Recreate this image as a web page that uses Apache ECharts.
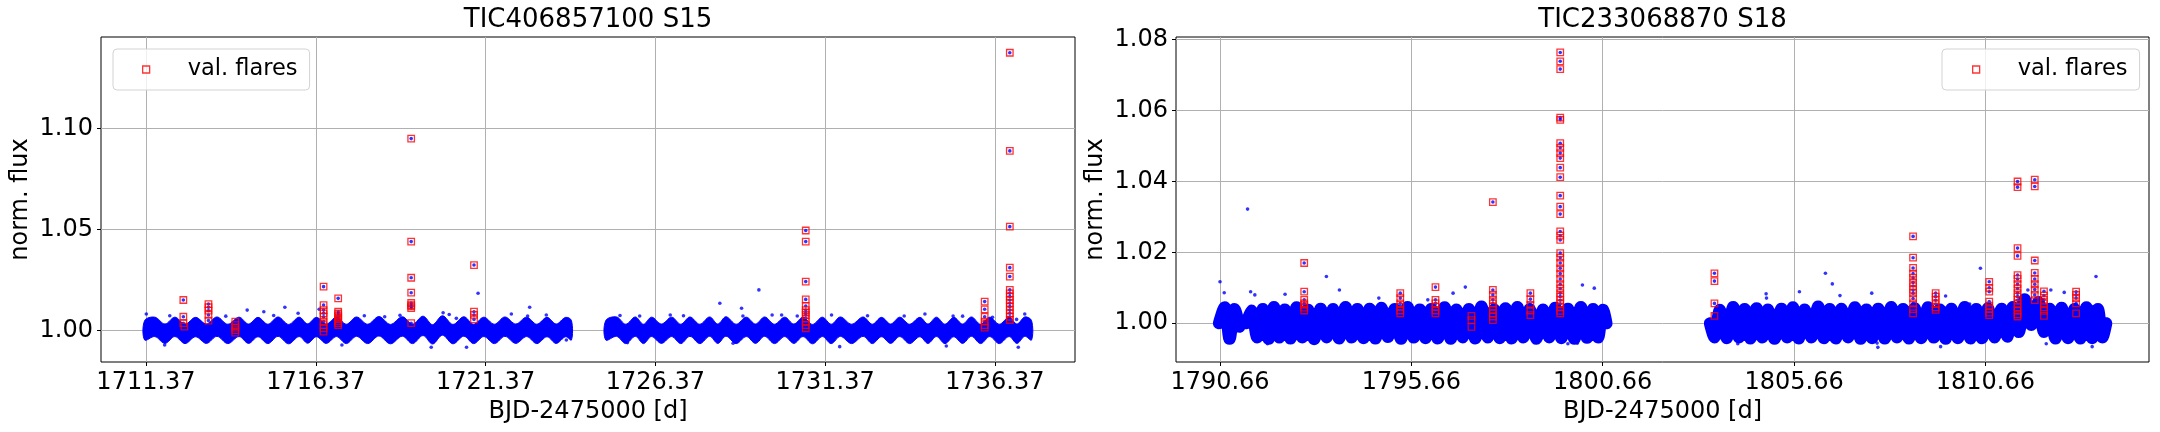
<!DOCTYPE html>
<html><head><meta charset="utf-8">
<script src="https://cdn.jsdelivr.net/npm/echarts@6/dist/echarts.min.js"></script>
<style>html,body{margin:0;padding:0;background:#fff}#c{width:2160px;height:432px}</style>
</head><body><div id="c"></div>
<script>
// ---------------- DATA ----------------
const titles = ['TIC406857100 S15', 'TIC233068870 S18'];
const xAxisName = 'BJD-2475000 [d]';
const yAxisName = 'norm. flux';
const legendName = 'val. flares';

const leftXTicks = [1711.37, 1716.37, 1721.37, 1726.37, 1731.37, 1736.37];
const leftYTicks = [1.00, 1.05, 1.10];
const rightXTicks = [1790.66, 1795.66, 1800.66, 1805.66, 1810.66];
const rightYTicks = [1.00, 1.02, 1.04, 1.06, 1.08];
const leftXRange = [1710.045, 1738.73];
const leftYRange = [0.9843, 1.1452];
const rightXRange = [1789.51, 1814.935];
const rightYRange = [0.98907, 1.08076];

// half-thickness of the dense point band around its modulated centre
const leftBandHalf = 0.0048;

// light-curve band: centre of the modulation at its peaks and troughs
const leftSeg1T = [1711.33,1711.63,1711.93,1712.22,1712.52,1712.83,1713.15,1713.46,1713.78,1714.11,1714.39,1714.67,1714.96,1715.26,1715.57,1715.88,1716.13,1716.39,1716.68,1716.98,1717.27,1717.57,1717.90,1718.23,1718.57,1718.92,1719.22,1719.53,1719.81,1720.10,1720.41,1720.73,1721.02,1721.32,1721.63,1721.94,1722.26,1722.58,1722.88,1723.18,1723.45,1723.73,1723.90];
const leftSeg1V = [1.0000,1.0017,0.9983,1.0017,0.9982,1.0016,0.9983,1.0018,0.9982,1.0017,0.9983,1.0016,0.9982,1.0018,0.9981,1.0017,0.9984,1.0016,0.9983,1.0017,0.9982,1.0018,0.9982,1.0020,0.9981,1.0019,0.9982,1.0022,0.9980,1.0024,0.9981,1.0019,0.9982,1.0017,0.9982,1.0018,0.9983,1.0017,0.9982,1.0016,0.9983,1.0016,1.0000];
const leftSeg2T = [1724.91,1725.23,1725.50,1725.78,1726.02,1726.26,1726.55,1726.85,1727.12,1727.39,1727.68,1727.97,1728.21,1728.45,1728.75,1729.05,1729.32,1729.59,1729.88,1730.18,1730.45,1730.72,1731.00,1731.29,1731.55,1731.82,1732.15,1732.49,1732.76,1733.03,1733.30,1733.57,1733.86,1734.16,1734.40,1734.65,1734.90,1735.16,1735.42,1735.68,1735.95,1736.22,1736.50,1736.79,1737.02,1737.25,1737.45];
const leftSeg2V = [1.0000,1.0018,0.9982,1.0018,0.9982,1.0017,0.9983,1.0017,0.9982,1.0018,0.9982,1.0018,0.9983,1.0019,0.9982,1.0017,0.9983,1.0018,0.9982,1.0017,0.9983,1.0017,0.9981,1.0017,0.9982,1.0018,0.9982,1.0018,0.9982,1.0016,0.9983,1.0017,0.9982,1.0016,0.9983,1.0017,0.9982,1.0016,0.9983,1.0018,0.9982,1.0017,0.9982,1.0017,0.9983,1.0018,1.0000];

const rightSeg1T = [1790.63,1790.78,1790.91,1791.04,1791.17];
const rightSeg1V = [1.0000,1.0045,0.9956,1.0040,0.9990];
const rightSeg2T = [1791.35,1791.48,1791.63,1791.78,1791.93,1792.07,1792.21,1792.35,1792.50,1792.66,1792.81,1792.96,1793.12,1793.29,1793.45,1793.61,1793.77,1793.94,1794.10,1794.25,1794.41,1794.57,1794.72,1794.88,1795.05,1795.22,1795.39,1795.56,1795.72,1795.88,1796.03,1796.18,1796.35,1796.53,1796.69,1796.84,1797.00,1797.16,1797.33,1797.49,1797.66,1797.82,1797.97,1798.12,1798.28,1798.43,1798.59,1798.75,1798.93,1799.10,1799.26,1799.42,1799.58,1799.75,1799.92,1800.09,1800.25,1800.41,1800.54,1800.67,1800.76];
const rightSeg2V = [1.0000,1.0036,0.9960,1.0040,0.9956,1.0046,0.9960,1.0039,0.9957,1.0045,0.9960,1.0038,0.9955,1.0041,0.9960,1.0040,0.9957,1.0046,0.9960,1.0040,0.9958,1.0041,0.9957,1.0044,0.9961,1.0040,0.9956,1.0046,0.9960,1.0039,0.9958,1.0040,0.9957,1.0045,0.9956,1.0039,0.9960,1.0040,0.9957,1.0047,0.9960,1.0039,0.9958,1.0042,0.9957,1.0046,0.9960,1.0040,0.9956,1.0039,0.9960,1.0044,0.9958,1.0041,0.9956,1.0046,0.9959,1.0040,0.9960,1.0038,1.0000];
const rightSeg3T = [1803.46,1803.58,1803.72,1803.90,1804.07,1804.22,1804.37,1804.52,1804.68,1804.83,1804.98,1805.15,1805.33,1805.48,1805.63,1805.78,1805.94,1806.11,1806.29,1806.44,1806.59,1806.75,1806.90,1807.07,1807.25,1807.40,1807.55,1807.70,1807.86,1808.03,1808.20,1808.35,1808.51,1808.66,1808.81,1808.98,1809.16,1809.31,1809.47,1809.62,1809.77,1809.94,1810.12,1810.27,1810.42,1810.57,1810.73,1810.90,1811.08,1811.23,1811.38,1811.53,1811.69,1811.86,1812.04,1812.19,1812.34,1812.49,1812.65,1812.82,1812.99,1813.14,1813.30,1813.45,1813.60,1813.72,1813.82];
const rightSeg3V = [1.0000,0.9960,1.0038,0.9958,1.0046,0.9960,1.0040,0.9957,1.0042,0.9960,1.0039,0.9956,1.0041,0.9960,1.0045,0.9957,1.0039,0.9960,1.0047,0.9958,1.0040,0.9957,1.0041,0.9960,1.0045,0.9956,1.0039,0.9958,1.0041,0.9957,1.0046,0.9960,1.0040,0.9957,1.0042,0.9958,1.0045,0.9960,1.0039,0.9956,1.0041,0.9958,1.0046,0.9957,1.0040,0.9958,1.0042,0.9960,1.0041,0.9962,1.0046,0.9975,1.0068,0.9995,1.0060,0.9975,1.0041,0.9957,1.0044,0.9958,1.0040,0.9957,1.0045,0.9958,1.0040,0.9960,1.0000];

// isolated points outside the band
const leftOutT = [1711.38,1715.46,1714.35,1714.84,1715.85,1716.47,1721.15,1722.67,1722.13,1722.61,1723.16,1720.51,1718.40,1711.92,1717.14,1719.77,1720.81,1723.75,1728.27,1729.42,1728.91,1728.95,1726.81,1729.81,1730.09,1731.56,1725.91,1734.31,1735.14,1736.30,1737.25,1737.01,1731.80,1734.94,1737.06,1728.66,1725.55,1712.07,1713.72,1715.13,1717.80,1718.85,1720.12,1720.30,1725.33,1727.20,1730.55,1732.62,1733.70,1735.42];
const leftOutV = [1.0081,1.0114,1.0100,1.0092,1.0084,1.0104,1.0183,1.0114,1.0081,1.0071,1.0076,1.0059,1.0067,0.9927,0.9927,0.9916,0.9916,0.9952,1.0134,1.0200,1.0109,1.0071,1.0076,1.0076,1.0076,1.0076,1.0071,1.0081,1.0071,1.0064,1.0081,1.0054,0.9919,0.9922,0.9916,0.9936,0.9939,1.0072,1.0070,1.0073,1.0072,1.0074,1.0087,1.0078,1.0073,1.0072,1.0071,1.0072,1.0071,1.0070];
const rightOutT = [1791.38,1790.66,1793.44,1793.78,1790.77,1792.36,1796.75,1797.07,1800.13,1800.44,1806.48,1806.66,1805.80,1810.53,1813.55,1812.37,1804.93,1807.69,1806.86,1807.83,1809.49,1813.45,1791.46,1791.57,1794.81,1796.09,1791.90,1800.00,1799.75,1804.94,1809.62,1810.25,1811.77,1812.72,1813.47,1804.19,1807.85,1812.25];
const rightOutV = [1.0322,1.0117,1.0132,1.0094,1.0086,1.0082,1.0085,1.0102,1.0108,1.0099,1.0141,1.0111,1.0089,1.0155,1.0132,1.0094,1.0083,1.0085,1.0078,0.9944,0.9934,0.9934,1.0089,1.0080,1.0071,1.0066,0.9942,0.9944,0.9942,1.0071,1.0077,1.0054,1.0094,1.0087,1.0047,0.9942,0.9932,0.9942];

// validated flares: time of each flare column and the fluxes flagged there
const leftFlareT = [1712.47,1712.50,1713.21,1714.00,1716.60,1717.03,1719.18,1721.03,1730.80,1736.07,1736.81];
const leftFlareV = [
  [1.0150,1.0067,1.0035],[1.0018],
  [1.0130,1.0114,1.0097,1.0076,1.0048],
  [1.0043,1.0026,1.0013,1.0001,0.9988],
  [1.0216,1.0125,1.0100,1.0084,1.0067,1.0043,1.0026,1.0010,0.9993],
  [1.0158,1.0092,1.0083,1.0074,1.0065,1.0056,1.0045,1.0035,1.0026],
  [1.0949,1.0439,1.0260,1.0186,1.0135,1.0125,1.0118,1.0110,1.0035],
  [1.0323,1.0092,1.0076,1.0054],
  [1.0494,1.0439,1.0241,1.0153,1.0120,1.0100,1.0087,1.0076,1.0059,1.0043,1.0026,1.0010],
  [1.0142,1.0104,1.0067,1.0043,1.0026,1.0013],
  [1.1374,1.0888,1.0513,1.0310,1.0266,1.0200,1.0183,1.0167,1.0150,1.0134,1.0117,1.0100,1.0084,1.0067,1.0051]
];
const rightFlareT = [1792.86,1795.37,1796.29,1797.23,1797.79,1798.77,1799.55,1803.58,1808.77,1809.36,1810.76,1811.50,1811.95,1812.19,1813.03];
const rightFlareV = [
  [1.0170,1.0089,1.0066,1.0056,1.0052,1.0044,1.0036],
  [1.0085,1.0071,1.0056,1.0047,1.0036,1.0028],
  [1.0102,1.0066,1.0056,1.0046,1.0036,1.0028],
  [1.0021,1.0009,0.9990],
  [1.0342,1.0094,1.0080,1.0066,1.0056,1.0047,1.0038,1.0028,1.0019,1.0009],
  [1.0085,1.0068,1.0052,1.0036,1.0023],
  [1.0764,1.0739,1.0717,1.0580,1.0574,1.0508,1.0495,1.0480,1.0466,1.0439,1.0412,1.0360,1.0329,1.0308,1.0259,1.0247,1.0235,1.0198,1.0185,1.0170,1.0155,1.0140,1.0125,1.0110,1.0098,1.0085,1.0075,1.0065,1.0055,1.0045,1.0035,1.0028],
  [1.0141,1.0119,1.0056,1.0021],
  [1.0245,1.0185,1.0156,1.0140,1.0128,1.0115,1.0105,1.0094,1.0085,1.0070,1.0056,1.0040,1.0028],
  [1.0085,1.0075,1.0065,1.0054,1.0045,1.0038],
  [1.0117,1.0100,1.0089,1.0061,1.0050,1.0040,1.0030,1.0023],
  [1.0400,1.0384,1.0212,1.0190,1.0136,1.0125,1.0110,1.0098,1.0085,1.0075,1.0065,1.0055,1.0045,1.0035,1.0025,1.0019],
  [1.0405,1.0386,1.0177,1.0142,1.0125,1.0110,1.0095,1.0080,1.0065],
  [1.0090,1.0078,1.0066,1.0056,1.0045,1.0035,1.0021],
  [1.0089,1.0080,1.0071,1.0056,1.0028]
];

// ---------------- CHART ----------------
const FONT = 'DejaVu Sans';
const BLUE = '#0000ff', RED = '#ff0000', GRID = '#b0b0b0';
const zip = (a, b) => a.map((t, i) => [t, b[i]]);
const flarePts = (ts, vs) => { const o = []; ts.forEach((t, i) => vs[i].forEach(v => o.push([t, v]))); return o; };

// band drawn as one smoothed polygon per segment, positioned with the axis scales (api.coord)
function bandRender(params, api) {
  if (params.dataIndexInside !== 0) return null;
  const n = params.dataInsideLength, top = [], bot = [];
  for (let j = 0; j < n; j++) {
    const t = api.value(0, j);
    top.push(api.coord([t, api.value(2, j)]));
    bot.push(api.coord([t, api.value(1, j)]));
  }
  return { type: 'polygon', shape: { points: top.concat(bot.reverse()), smooth: 0.35 },
    style: { fill: BLUE, stroke: BLUE, lineWidth: 1 } };
}

const panels = [
  { grid: { left: 101, top: 37, width: 974, height: 325 }, xr: leftXRange, yr: leftYRange, xt: leftXTicks, yt: leftYTicks,
    segs: [[leftSeg1T, leftSeg1V], [leftSeg2T, leftSeg2V]], mode: 'area', half: leftBandHalf,
    out: zip(leftOutT, leftOutV), fl: flarePts(leftFlareT, leftFlareV), title: titles[0], legendLeft: 113, legendPad: [9, 12, 9, 29] },
  { grid: { left: 1176, top: 37, width: 973, height: 325 }, xr: rightXRange, yr: rightYRange, xt: rightXTicks, yt: rightYTicks,
    segs: [[rightSeg1T, rightSeg1V], [rightSeg2T, rightSeg2V], [rightSeg3T, rightSeg3V]], mode: 'line', bandW: 12,
    out: zip(rightOutT, rightOutV), fl: flarePts(rightFlareT, rightFlareV), title: titles[1], legendLeft: 1942, legendPad: [9, 12, 9, 30] }
];

const option = { animation: false, backgroundColor: '#fff', grid: [], xAxis: [], yAxis: [], series: [], title: [], legend: [] };

panels.forEach((p, k) => {
  option.grid.push(Object.assign({ show: true, borderColor: '#000', borderWidth: 1, backgroundColor: 'transparent' }, p.grid));
  option.title.push({ text: p.title, left: p.grid.left + p.grid.width / 2, top: 7, textAlign: 'center', padding: 0,
    textStyle: { fontFamily: FONT, fontSize: 26, fontWeight: 'normal', color: '#000' } });
  option.xAxis.push({ type: 'value', gridIndex: k, min: p.xr[0], max: p.xr[1],
    name: xAxisName, nameLocation: 'middle', nameGap: 33,
    nameTextStyle: { fontFamily: FONT, fontSize: 24, color: '#000' },
    axisLine: { show: false }, splitLine: { show: false },
    axisTick: { show: true, customValues: p.xt, length: 4, lineStyle: { color: '#000' } },
    axisLabel: { customValues: p.xt, formatter: v => v.toFixed(2), margin: 9, fontFamily: FONT, fontSize: 24, color: '#000' } });
  option.yAxis.push({ type: 'value', gridIndex: k, min: p.yr[0], max: p.yr[1],
    name: yAxisName, nameLocation: 'middle', nameGap: 68, nameRotate: 90,
    nameTextStyle: { fontFamily: FONT, fontSize: 24, color: '#000' },
    axisLine: { show: false }, splitLine: { show: false },
    axisTick: { show: true, customValues: p.yt, length: 4, lineStyle: { color: '#000' } },
    axisLabel: { customValues: p.yt, formatter: v => v.toFixed(2), margin: 8, fontFamily: FONT, fontSize: 24, color: '#000' } });

  // grid lines at the tick values
  option.series.push({ type: 'scatter', xAxisIndex: k, yAxisIndex: k, data: [], z: 1, silent: true,
    markLine: { silent: true, symbol: 'none', z: 1, animation: false, label: { show: false },
      lineStyle: { color: GRID, width: 1, type: 'solid' },
      data: p.xt.map(v => ({ xAxis: v })).concat(p.yt.map(v => ({ yAxis: v }))) } });

  p.segs.forEach(([ts, vs]) => {
    if (p.mode === 'area') {
      option.series.push({ type: 'custom', xAxisIndex: k, yAxisIndex: k, z: 2, silent: true, clip: true,
        data: ts.map((t, i) => [t, vs[i] - p.half, vs[i] + p.half]),
        encode: { x: 0, y: [1, 2] }, renderItem: bandRender });
    } else {
      option.series.push({ type: 'line', xAxisIndex: k, yAxisIndex: k, data: zip(ts, vs), z: 2, silent: true,
        showSymbol: false, smooth: 0.35, clip: true, lineStyle: { color: BLUE, width: p.bandW, cap: 'round', join: 'round' } });
    }
  });

  option.series.push({ type: 'scatter', xAxisIndex: k, yAxisIndex: k, data: p.out.concat(p.fl), z: 3, silent: true,
    symbol: 'circle', symbolSize: 3.6, itemStyle: { color: BLUE } });

  option.series.push({ name: legendName, type: 'scatter', xAxisIndex: k, yAxisIndex: k, data: p.fl, z: 4, silent: true,
    symbol: 'rect', symbolSize: 6.5, itemStyle: { color: 'rgba(0,0,0,0)', borderColor: RED, borderWidth: 1.3 } });

  option.legend.push({ left: p.legendLeft, top: 49, orient: 'horizontal', selectedMode: false,
    data: [{ name: legendName, icon: 'rect' }], itemWidth: 7, itemHeight: 7, padding: p.legendPad,
    backgroundColor: 'rgba(255,255,255,0.8)', borderColor: '#d3d3d3', borderWidth: 1, borderRadius: 4,
    itemStyle: { color: 'rgba(0,0,0,0)', borderColor: RED, borderWidth: 1.3 },
    textStyle: { fontFamily: FONT, fontSize: 22.5, color: '#000', padding: [0, 0, 0, 33] } });
});

const chart = echarts.init(document.getElementById('c'), null, { renderer: 'canvas' });
chart.setOption(option);
</script>
</body></html>
